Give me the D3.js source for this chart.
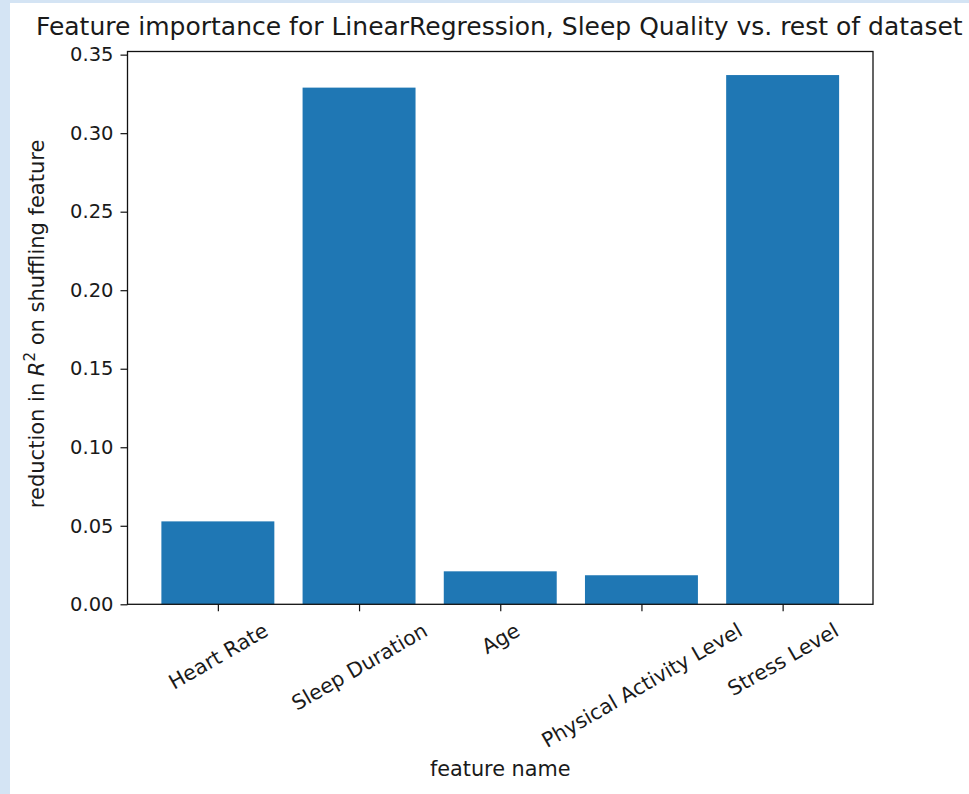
<!DOCTYPE html>
<html><head><meta charset="utf-8">
<script src="https://cdn.jsdelivr.net/npm/d3@7"></script>
<style>body{margin:0;background:#fff}text{font-family:"DejaVu Sans",sans-serif;fill:#1a1a1a}</style>
</head><body><svg id="c" width="969" height="794"></svg>
<script>
const categories = ["Heart Rate","Sleep Duration","Age","Physical Activity Level","Stress Level"];
const values = [0.0528, 0.329, 0.021, 0.0185, 0.337];
const yTicks = [0.00,0.05,0.10,0.15,0.20,0.25,0.30,0.35];
const yMax = 0.352;
const titleText = "Feature importance for LinearRegression, Sleep Quality vs. rest of dataset";

const svg = d3.select("#c");
svg.append("rect").attr("width",969).attr("height",794).attr("fill","#d4e4f4");
svg.append("rect").attr("x",10).attr("y",3).attr("width",959).attr("height",791).attr("fill","#fff");

const L=127.5,R=873,T=51.5,B=604.3;
const n=categories.length;
const x=d3.scaleLinear().domain([-0.4-0.05*(n-1+0.8), n-1+0.4+0.05*(n-1+0.8)]).range([L,R]);
const y=d3.scaleLinear().domain([0,yMax]).range([B,T]);

svg.append("g").selectAll("rect").data(values).join("rect")
  .attr("x",(d,i)=>x(i-0.4)).attr("width",(d,i)=>x(i+0.4)-x(i-0.4))
  .attr("y",d=>y(d)).attr("height",d=>y(0)-y(d)).attr("fill","#1f77b4");

const ya=svg.append("g").attr("transform",`translate(${L},0)`)
  .call(d3.axisLeft(y).tickValues(yTicks).tickFormat(d3.format(".2f")).tickSize(7).tickPadding(7));
ya.select(".domain").remove();
ya.selectAll("line").attr("stroke","#111").attr("stroke-width",1.2);
ya.selectAll("text").attr("font-size",19.5).attr("font-family","DejaVu Sans").attr("fill","#1a1a1a");

const xa=svg.append("g").attr("transform",`translate(0,${B})`)
  .call(d3.axisBottom(x).tickValues(d3.range(n)).tickFormat(i=>categories[i]).tickSize(7));
xa.select(".domain").remove();
xa.selectAll("line").attr("stroke","#111").attr("stroke-width",1.2);
xa.selectAll("text").attr("font-size",20.5).attr("font-family","DejaVu Sans").attr("fill","#1a1a1a")
  .attr("dy",null).attr("y",0).attr("text-anchor","middle").attr("dominant-baseline","central")
  .each(function(){
    const w=this.getComputedTextLength(), h=20.5*1.17;
    const a=30*Math.PI/180;
    const bh=w*Math.sin(a)+h*Math.cos(a);
    const cy=14+bh/2;
    d3.select(this).attr("transform",`translate(0,${cy}) rotate(-30)`);
  });

svg.append("rect").attr("x",L).attr("y",T).attr("width",R-L).attr("height",B-T)
  .attr("fill","none").attr("stroke","#111").attr("stroke-width",1.3);

svg.append("text").attr("x",(L+R)/2-1).attr("y",35).attr("text-anchor","middle")
  .attr("font-size",25).text(titleText);
svg.append("text").attr("x",(L+R)/2).attr("y",776).attr("text-anchor","middle")
  .attr("font-size",20.8).text("feature name");
const yl=svg.append("text").attr("transform",`translate(44,${(T+B)/2-4}) rotate(-90)`)
  .attr("text-anchor","middle").attr("font-size",21);
yl.append("tspan").text("reduction in ");
yl.append("tspan").attr("font-style","italic").text("R");
yl.append("tspan").attr("dy",-9).attr("font-size",15).text("2");
yl.append("tspan").attr("dy",9).text(" on shuffling feature");
</script></body></html>
